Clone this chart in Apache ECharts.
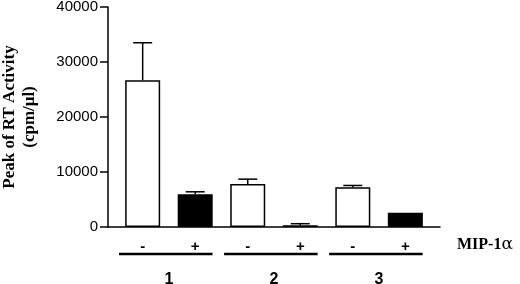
<!DOCTYPE html>
<html>
<head>
<meta charset="utf-8">
<script src="https://cdn.jsdelivr.net/npm/echarts@6/dist/echarts.min.js"></script>
<style>
  html, body { margin: 0; padding: 0; background: #fff; }
  #main { width: 520px; height: 284px; }
</style>
</head>
<body>
<div id="main"></div>
<script>
// MIP-1a treatment per bar, donor groups, RT activity (cpm/ul) and upper error
var treatment = ['-', '+', '-', '+', '-', '+'];
var groups = ['1', '2', '3'];
var rtMean = [26700, 5950, 7800, 300, 7250, 2600];
var rtErr = [6800, 450, 900, 300, 300, 0];

var barData = rtMean.map(function (v, i) { return [i, v]; });
var errData = rtMean.map(function (v, i) { return [i, v, v + rtErr[i]]; });
var groupData = groups.map(function (g, i) { return [i * 2, i * 2 + 1]; });

var myChart = echarts.init(document.getElementById('main'));
var option = {
    animation: false,
    grid: { left: 108, right: 80, top: 7, bottom: 57, outerBoundsMode: 'none' },
    xAxis: [{
        type: 'value',
        min: -0.66,
        max: 5.66,
        splitLine: { show: false },
        axisLine: { onZero: false, lineStyle: { color: '#000', width: 1.5 } },
        axisTick: { show: false },
        axisLabel: {
            customValues: treatment.map(function (t, i) { return i; }),
            formatter: function (v) { return treatment[Math.round(v)]; },
            margin: 12,
            color: '#000',
            fontFamily: 'Liberation Sans',
            fontWeight: 'bold',
            fontSize: 15
        }
    }, {
        type: 'value',
        min: -0.66,
        max: 5.66,
        position: 'bottom',
        offset: 45,
        splitLine: { show: false },
        axisLine: { show: false },
        axisTick: { show: false },
        axisLabel: {
            customValues: groups.map(function (g, i) { return i * 2 + 0.5; }),
            formatter: function (v) { return groups[Math.round((v - 0.5) / 2)]; },
            margin: 0,
            color: '#000',
            fontFamily: 'Liberation Sans',
            fontWeight: 'bold',
            fontSize: 16
        }
    }],
    yAxis: {
        type: 'value',
        min: 0,
        max: 40000,
        interval: 10000,
        splitLine: { show: false },
        axisLine: { show: true, onZero: false, lineStyle: { color: '#000', width: 1.5 } },
        axisTick: { show: true, length: 8, lineStyle: { color: '#000', width: 1.5 } },
        axisLabel: {
            margin: 10,
            color: '#000',
            fontFamily: 'Liberation Sans',
            fontSize: 15,
            formatter: function (v) { return String(v); }
        },
        name: 'Peak of RT Activity\n(cpm/\u03bcl)',
        nameLocation: 'middle',
        nameGap: 68,
        nameTextStyle: {
            color: '#000',
            fontFamily: 'Liberation Serif',
            fontWeight: 'bold',
            fontSize: 17,
            lineHeight: 20
        }
    },
    graphic: [{
        type: 'text',
        left: 457,
        top: 236,
        style: {
            text: '{a|MIP-1}{b|\u03b1}',
            rich: {
                a: { fontFamily: 'Liberation Serif', fontWeight: 'bold', fontSize: 16, fill: '#000' },
                b: { fontFamily: 'DejaVu Serif', fontSize: 17, fill: '#000' }
            }
        }
    }],
    series: [{
        type: 'bar',
        data: barData,
        barWidth: 35,
        itemStyle: {
            color: function (p) { return treatment[p.dataIndex] === '+' ? '#000' : '#fff'; },
            borderColor: '#000',
            borderWidth: 1.5
        }
    }, {
        type: 'custom',
        data: errData,
        z: 1,
        renderItem: function (params, api) {
            var x = api.value(0);
            var p0 = api.coord([x, api.value(1)]);
            var p1 = api.coord([x, api.value(2)]);
            if (p0[1] - p1[1] < 0.5) return null;
            var style = { stroke: '#000', lineWidth: 1.5 };
            return {
                type: 'group',
                children: [
                    { type: 'line', shape: { x1: p0[0], y1: p0[1], x2: p1[0], y2: p1[1] }, style: style },
                    { type: 'line', shape: { x1: p1[0] - 9.5, y1: p1[1], x2: p1[0] + 9.5, y2: p1[1] }, style: style }
                ]
            };
        }
    }, {
        type: 'custom',
        data: groupData,
        clip: false,
        renderItem: function (params, api) {
            var a = api.coord([api.value(0) - 0.45, 0]);
            var b = api.coord([api.value(1) + 0.33, 0]);
            return {
                type: 'line',
                shape: { x1: a[0], y1: a[1] + 27, x2: b[0], y2: b[1] + 27 },
                style: { stroke: '#000', lineWidth: 2.5 }
            };
        }
    }]
};
myChart.setOption(option);
</script>
</body>
</html>
